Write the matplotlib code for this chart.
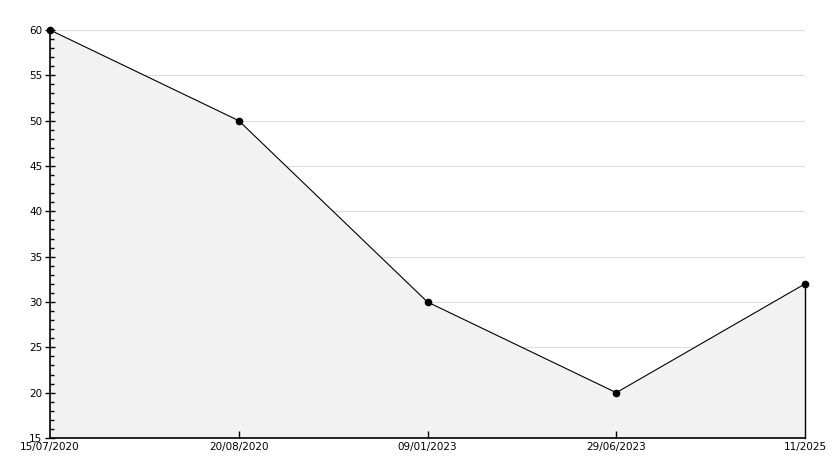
import matplotlib
matplotlib.use("Agg")
import matplotlib.pyplot as plt
from matplotlib.ticker import MultipleLocator

# data
dates = ["15/07/2020", "20/08/2020", "09/01/2023", "29/06/2023", "11/2025"]
values = [60, 50, 30, 20, 32]

x = list(range(len(dates)))
y_min, y_max = 15, 60

fig = plt.figure(figsize=(8.34, 4.68), dpi=100)
ax = fig.add_axes([50 / 834, 30 / 468, 755 / 834, 408 / 468])

# light grid under the area fill
for gy in range(20, y_max + 1, 5):
    ax.axhline(gy, color="#dddddd", lw=0.8, zorder=0.5)

ax.fill_between(x, values, y_min, color="#f2f2f2", lw=0, zorder=1)
ax.plot([x[-1], x[-1]], [y_min, values[-1]], color="black", lw=1, zorder=2,
        clip_on=False)
ax.plot(x, values, color="black", lw=0.8, marker="o", ms=4.5, zorder=3,
        clip_on=False)

ax.set_xlim(x[0], x[-1])
ax.set_ylim(y_min, y_max)
ax.set_xticks(x)
ax.set_xticklabels(dates)
ax.yaxis.set_major_locator(MultipleLocator(5))
ax.yaxis.set_minor_locator(MultipleLocator(1))

for side in ["top", "right"]:
    ax.spines[side].set_visible(False)
ax.spines["left"].set_linewidth(1.2)
ax.spines["bottom"].set_linewidth(1.2)

ax.tick_params(axis="y", which="major", direction="inout", length=7, width=1,
               labelsize=7.5, pad=2)
ax.tick_params(axis="y", which="minor", direction="in", length=3, width=1)
ax.tick_params(axis="x", direction="in", length=5, width=1, labelsize=7.5, pad=3)
ax.get_xticklines()[0].set_visible(False)
ax.get_xticklines()[-2].set_visible(False)

fig.savefig("out.png", dpi=100)
